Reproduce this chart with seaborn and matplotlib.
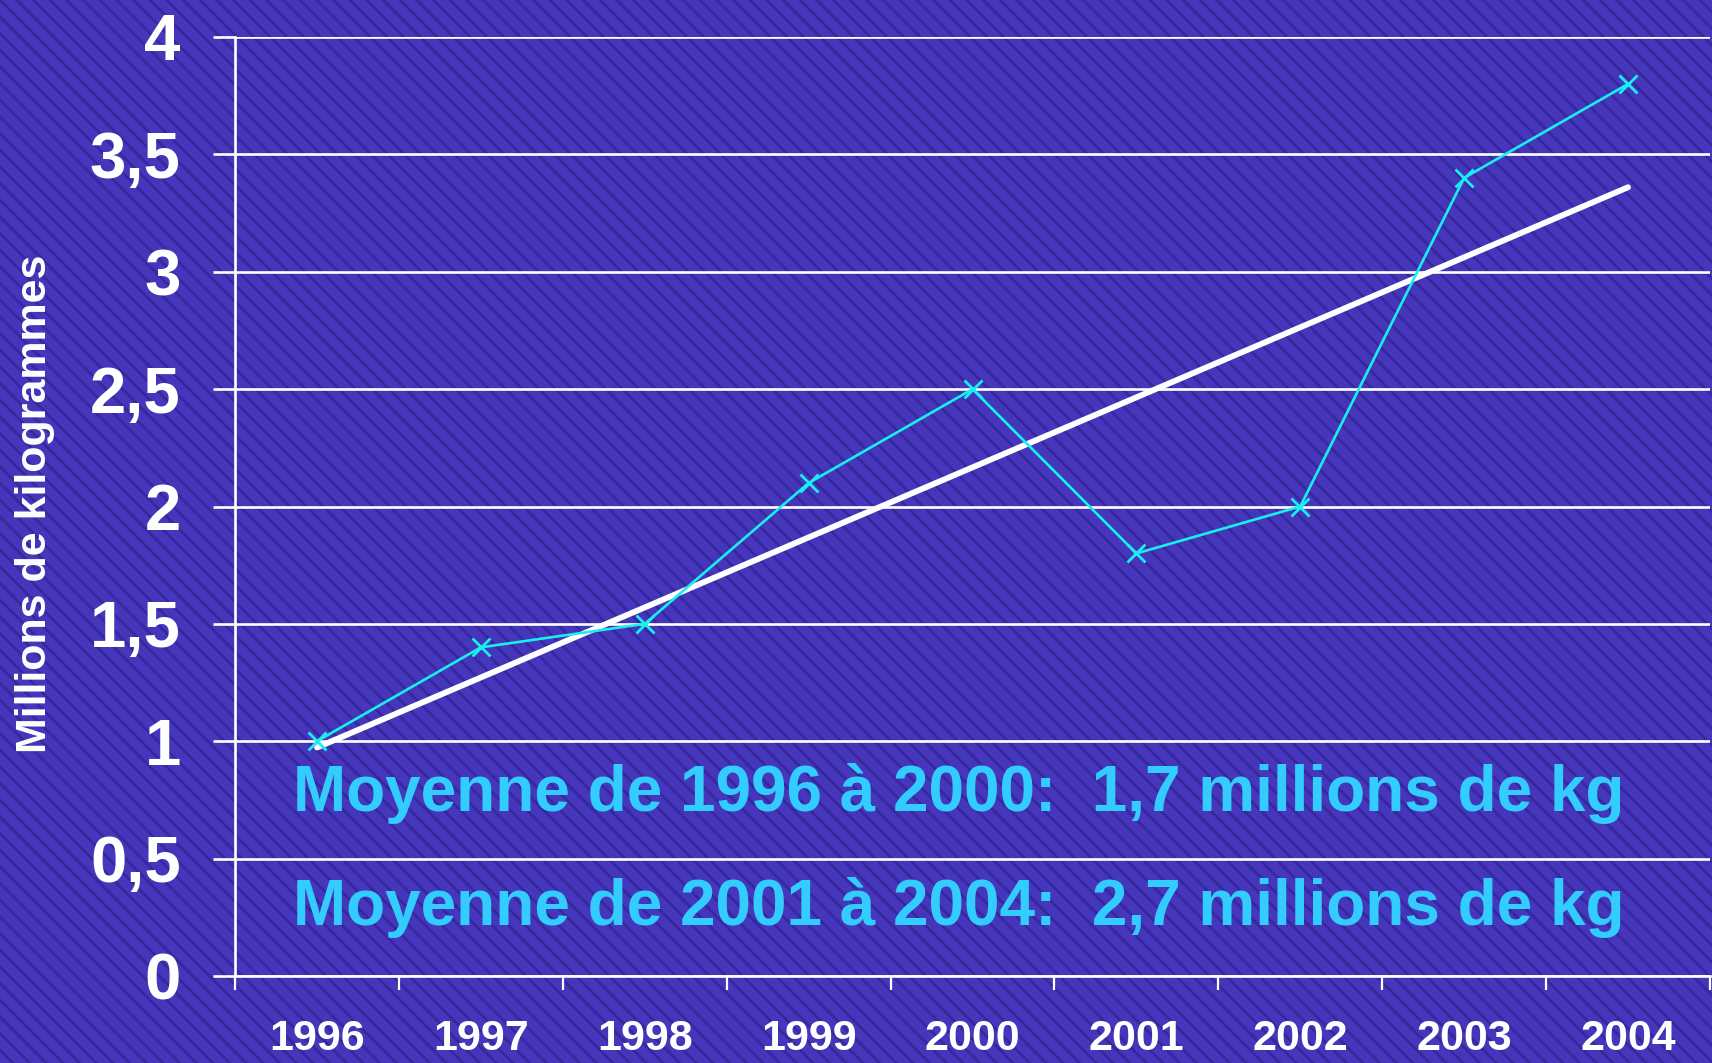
import numpy as np
import pandas as pd
import matplotlib
matplotlib.use("Agg")
import matplotlib.pyplot as plt
from matplotlib.patches import Rectangle
import seaborn as sns

# ---- data ----
years = ["1996", "1997", "1998", "1999", "2000", "2001", "2002", "2003", "2004"]
values = [1.0, 1.4, 1.5, 2.1, 2.5, 1.8, 2.0, 3.4, 3.8]
y_ticks = [0, 0.5, 1, 1.5, 2, 2.5, 3, 3.5, 4]
y_tick_labels = ["0", "0,5", "1", "1,5", "2", "2,5", "3", "3,5", "4"]
y_label = "Millions de kilogrammes"
notes = ["Moyenne de 1996 à 2000:  1,7 millions de kg",
         "Moyenne de 2001 à 2004:  2,7 millions de kg"]

sns.set_style("white")
plt.rcParams["font.family"] = ["Liberation Sans", "DejaVu Sans"]
plt.rcParams["hatch.linewidth"] = 1.9
plt.rcParams["hatch.color"] = "#36289c"

BG = "#4636bc"
WHITE = "white"
CYAN = "#19eef0"
TEXT_CYAN = "#33ccff"

fig = plt.figure(figsize=(17.12, 10.63), dpi=100, facecolor=BG)
# hatched background texture over whole figure
fig.patches.append(Rectangle((0, 0), 1, 1, transform=fig.transFigure,
                             facecolor=BG, edgecolor="#36289c", hatch="\\\\",
                             linewidth=0, zorder=-10))

ax = fig.add_axes([235 / 1712, 87 / 1063, 1475 / 1712, 939 / 1063])
ax.set_facecolor("none")

df = pd.DataFrame({"x": np.arange(len(years)) + 0.5, "y": values})

# linear trend from data
coef = np.polyfit(df["x"], df["y"], 1)
trend = pd.DataFrame({"x": df["x"], "y": np.polyval(coef, df["x"])})

ax.set_xlim(0, len(years))
ax.set_ylim(0, 4)

# grid
ax.set_yticks(y_ticks)
ax.set_yticklabels(y_tick_labels)
ax.yaxis.grid(True, color=WHITE, linewidth=1.9)
ax.xaxis.grid(False)
ax.set_axisbelow(True)

sns.lineplot(data=trend, x="x", y="y", ax=ax, color=WHITE, linewidth=4.2,
             solid_capstyle="round", zorder=3)
sns.lineplot(data=df, x="x", y="y", ax=ax, color=CYAN, linewidth=1.9,
             marker="x", markersize=13, markeredgewidth=2.0,
             markeredgecolor=CYAN, zorder=4)

# x ticks at category boundaries, labels centred
ax.set_xticks(np.arange(len(years) + 1))
ax.set_xticklabels([])
ax.set_xticks(np.arange(len(years)) + 0.5, minor=True)
ax.set_xticklabels(years, minor=True)
ax.tick_params(axis="x", which="major", direction="out", length=10,
               width=1.6, color=WHITE, bottom=True)
ax.tick_params(axis="x", which="minor", length=0, pad=31, labelsize=31,
               labelcolor=WHITE)
for t in ax.get_xticklabels(minor=True):
    t.set_fontweight("bold")

ax.tick_params(axis="y", direction="out", length=16, width=1.9, color=WHITE,
               left=True, pad=23, labelsize=47, labelcolor=WHITE)
for t in ax.get_yticklabels():
    t.set_fontweight("bold")

for side in ["top", "right"]:
    ax.spines[side].set_visible(False)
for side in ["left", "bottom"]:
    ax.spines[side].set_color(WHITE)
    ax.spines[side].set_linewidth(1.9)

ax.set_xlabel("")
ax.set_ylabel("")
fig.text(35 / 1712, 1 - 504 / 1063, y_label, rotation=90, ha="center",
         va="center", color=WHITE, fontsize=31, fontweight="bold")

ax.text(0.354, 0.703, notes[0], color=TEXT_CYAN, fontsize=46,
        fontweight="bold", va="baseline", ha="left", zorder=5)
ax.text(0.354, 0.217, notes[1], color=TEXT_CYAN, fontsize=46,
        fontweight="bold", va="baseline", ha="left", zorder=5)

fig.savefig("out.png", dpi=100, facecolor=BG)
